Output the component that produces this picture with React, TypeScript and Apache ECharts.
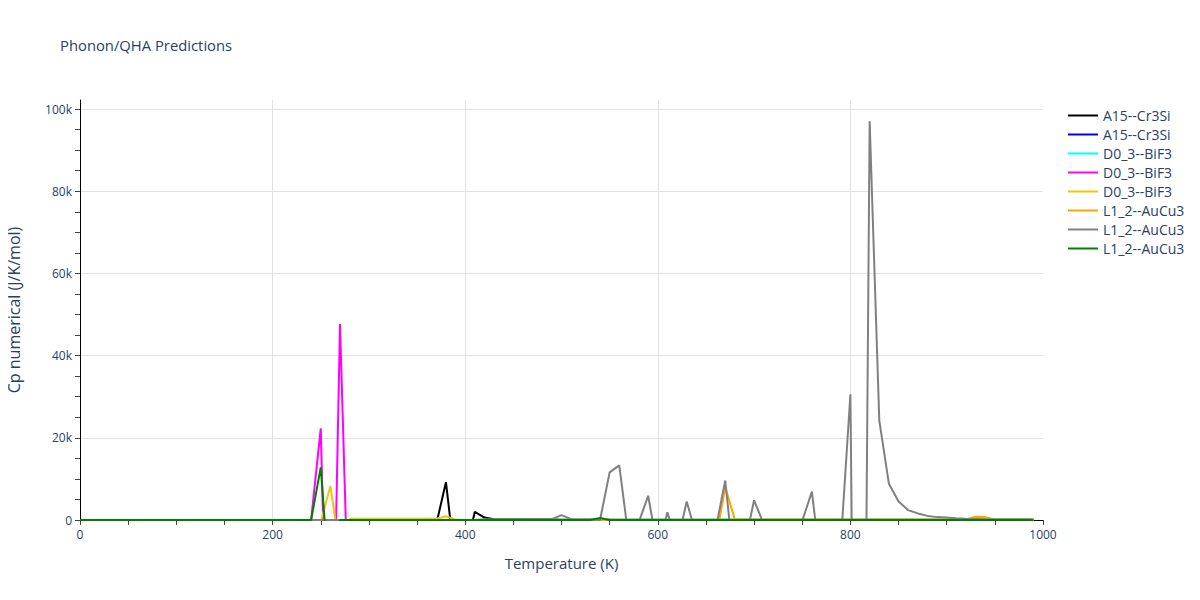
import React, { useEffect, useRef } from "react";
import * as echarts from "echarts";

const temps = [
  0, 10, 20, 30, 40, 50, 60, 70, 80, 90,
  100, 110, 120, 130, 140, 150, 160, 170, 180, 190,
  200, 210, 220, 230, 240, 250, 260, 270, 280, 290,
  300, 310, 320, 330, 340, 350, 360, 370, 380, 390,
  400, 410, 420, 430, 440, 450, 460, 470, 480, 490,
  500, 510, 520, 530, 540, 550, 560, 570, 580, 590,
  600, 610, 620, 630, 640, 650, 660, 670, 680, 690,
  700, 710, 720, 730, 740, 750, 760, 770, 780, 790,
  800, 810, 820, 830, 840, 850, 860, 870, 880, 890,
  900, 910, 920, 930, 940, 950, 960, 970, 980, 990,
];

const a15Black = [
  0, 0, 0, 0, 0, 0, 0, 0, 0, 0,
  0, 0, 0, 0, 0, 0, 0, 0, 0, 0,
  0, 0, 0, 0, 0, 0, 0, 0, 0, 0,
  0, 0, 0, 0, 0, 0, 0, -1000, 9200, -11000,
  -8000, 2000, 600, 200, 150, 100, 100, 100, 100, 100,
  80, 80, 80, 80, 80, 80, 80, 80, 80, 80,
  80, 80, 80, 80, 80, 80, 80, 80, 80, 80,
  80, 80, 80, 80, 80, 80, 80, 80, 80, 80,
  80, 80, 80, 80, 80, 80, 80, 80, 80, 80,
  80, 80, 80, 80, 80, 80, 80, 80, 80, 80,
];

const a15Blue = [
  0, 0, 0, 0, 0, 0, 0, 0, 0, 0,
  0, 0, 0, 0, 0, 0, 0, 0, 0, 0,
  0, 0, 0, 0, 0, 0, 0, 0, 0, 0,
  0, 0, 0, 0, 0, 0, 0, 0, 0, 0,
  0, 0, 0, 0, 0, 0, 0, 0, 0, 0,
  0, 0, 0, 0, 0, 0, 0, 0, 0, 0,
  0, 0, 0, 0, 0, 0, 0, 0, 0, 0,
  0, 0, 0, 0, 0, 0, 0, 0, 0, 0,
  0, 0, 0, 0, 0, 0, 0, 0, 0, 0,
  0, 0, 0, 0, 0, 0, 0, 0, 0, 0,
];

const d03Cyan = [
  0, 0, 0, 0, 0, 0, 0, 0, 0, 0,
  0, 0, 0, 0, 0, 0, 0, 0, 0, 0,
  0, 0, 0, 0, 0, 0, 0, 0, 0, 0,
  0, 0, 0, 0, 0, 0, 0, 0, 0, 0,
  0, 0, 0, 0, 0, 0, 0, 0, 0, 0,
  0, 0, 0, 0, 0, 0, 0, 0, 0, 0,
  0, 0, 0, 0, 0, 0, 0, 0, 0, 0,
  0, 0, 0, 0, 0, 0, 0, 0, 0, 0,
  0, 0, 0, 0, 0, 0, 0, 0, 0, 0,
  0, 0, 0, 0, 0, 0, 0, 0, 0, 0,
];

const d03Magenta = [
  0, 0, 0, 0, 0, 0, 0, 0, 0, 0,
  0, 0, 0, 0, 0, 0, 0, 0, 0, 0,
  0, 0, 0, 0, 0, 22300, -70000, 47700, -32000, 0,
  0, 0, 0, 0, 0, 0, 0, 0, 0, 0,
  0, 0, 0, 0, 0, 0, 0, 0, 0, 0,
  0, 0, 0, 0, 0, 0, 0, 0, 0, 0,
  0, 0, 0, 0, 0, 0, 0, 0, 0, 0,
  0, 0, 0, 0, 0, 0, 0, 0, 0, 0,
  0, 0, 0, 0, 0, 0, 0, 0, 0, 0,
  0, 0, 0, 0, 0, 0, 0, 0, 0, 0,
];

const d03Yellow = [
  0, 0, 0, 0, 0, 0, 0, 0, 0, 0,
  0, 0, 0, 0, 0, 0, 0, 0, 0, 0,
  0, 0, 0, 0, 0, -500, 8300, -7700, 300, 300,
  300, 300, 300, 300, 300, 300, 300, 300, 900, 100,
  0, 0, 0, 0, 0, 0, 0, 0, 0, 0,
  0, 0, 0, 0, 0, 0, 0, 0, 0, 0,
  0, 0, 0, 0, 0, 0, 0, 0, 0, 0,
  0, 0, 0, 0, 0, 0, 0, 0, 0, 0,
  0, 0, 0, 0, 0, 0, 0, 0, 0, 0,
  0, 0, 0, 0, 0, 0, 0, 0, 0, 0,
];

const l12Orange = [
  0, 0, 0, 0, 0, 0, 0, 0, 0, 0,
  0, 0, 0, 0, 0, 0, 0, 0, 0, 0,
  0, 0, 0, 0, 0, 0, 0, 0, 0, 0,
  0, 0, 0, 0, 0, 0, 0, 0, 0, 0,
  0, 0, 0, 0, 0, 0, 0, 0, 0, 0,
  0, 0, 0, 0, 0, 0, 0, 0, 0, 0,
  0, 0, 0, 0, 0, 0, -5000, 8000, 150, 150,
  150, 150, 150, 150, 150, 150, 150, 150, 150, 150,
  150, 150, 150, 150, 150, 150, 150, 150, 150, 150,
  150, 150, 150, 800, 700, 150, 150, 150, 150, 150,
];

const l12Gray = [
  0, 0, 0, 0, 0, 0, 0, 0, 0, 0,
  0, 0, 0, 0, 0, 0, 0, 0, 0, 0,
  0, 0, 0, 0, 0, 0, 0, 0, 0, 0,
  0, 0, 0, 0, 0, 0, 0, 0, 0, 0,
  0, 0, 200, 200, 200, 200, 200, 200, 200, 200,
  1200, 200, 100, 100, 0, 11600, 13300, -5000, -700, 5900,
  -7200, 1900, -6000, 4500, -3700, 0, -2400, 9600, -12700, -6200,
  4800, -1000, 0, 0, 0, -200, 6900, -12800, 0, -5800,
  30600, -196000, 97000, 24200, 8800, 4500, 2400, 1600, 1000, 700,
  600, 400, 300, 250, 200, 150, 100, 100, 100, 100,
];

const l12Green = [
  0, 0, 0, 0, 0, 0, 0, 0, 0, 0,
  0, 0, 0, 0, 0, 0, 0, 0, 0, 0,
  0, 0, 0, 0, 0, 12800, -19000, 0, 0, 0,
  0, 0, 0, 0, 0, 0, 0, 0, 0, 0,
  0, 0, 0, 0, 0, 0, 0, 0, 0, 0,
  0, 0, 0, 0, 500, 0, 0, 0, 0, 0,
  0, 0, 0, 0, 0, 0, 0, 0, 0, 0,
  0, 0, 0, 0, 0, 0, 0, 0, 0, 0,
  0, 0, 0, 0, 0, 0, 0, 0, 0, 0,
  0, 0, 0, 0, 0, 0, 0, 0, 0, 0,
];

const seriesNames = [
  "A15--Cr3Si",
  "A15--Cr3Si",
  "D0_3--BiF3",
  "D0_3--BiF3",
  "D0_3--BiF3",
  "L1_2--AuCu3",
  "L1_2--AuCu3",
  "L1_2--AuCu3",
];
const seriesColors = ["#000000", "#0000ff", "#00ffff", "#ff00ff", "#f2c40f", "#ffa500", "#808080", "#008000"];
const seriesValues = [a15Black, a15Blue, d03Cyan, d03Magenta, d03Yellow, l12Orange, l12Gray, l12Green];

const yTickValues = [
  0, 5000, 10000, 15000, 20000, 25000, 30000, 35000, 40000, 45000,
  50000, 55000, 60000, 65000, 70000, 75000, 80000, 85000, 90000, 95000, 100000,
];
const yLabelValues = [0, 20000, 40000, 60000, 80000, 100000];

const TEXT = "#2a3f5f";
const FONT = "'Open Sans', verdana, arial, sans-serif";
const CLEAR = "rgba(0,0,0,0)";

export default function App() {
  const ref = useRef<HTMLDivElement>(null);
  useEffect(() => {
    if (!ref.current) return;
    const chart = echarts.init(ref.current, null, { renderer: "svg" });
    const keys = seriesNames.map((n, i) => n + "\u200b".repeat(i));
    chart.setOption({
      animation: false,
      backgroundColor: "#ffffff",
      textStyle: { fontFamily: FONT },
      title: {
        text: "Phonon/QHA Predictions",
        left: 55,
        top: 32,
        textStyle: { fontFamily: FONT, fontSize: 14.8, fontWeight: "normal", color: TEXT },
      },
      legend: {
        orient: "vertical",
        left: 1063,
        top: 103,
        icon: "rect",
        itemWidth: 30,
        itemHeight: 2,
        itemGap: 4,
        data: keys,
        formatter: (name: string) => name.replace(/\u200b/g, ""),
        textStyle: { fontFamily: FONT, fontSize: 14, color: TEXT, lineHeight: 15 },
      },
      grid: { left: 80, top: 100, width: 963, height: 420, outerBoundsMode: "none", containLabel: false },
      xAxis: {
        type: "value",
        min: 0,
        max: 1000,
        interval: 200,
        name: "Temperature (K)",
        nameLocation: "middle",
        nameGap: 35,
        nameTextStyle: { fontFamily: FONT, fontSize: 15, color: TEXT },
        axisLine: { show: true, onZero: false, lineStyle: { color: "#000", width: 1 } },
        axisTick: { show: true, length: 5, lineStyle: { color: "#444" } },
        minorTick: { show: true, splitNumber: 4, length: 5, lineStyle: { color: "#444" } },
        axisLabel: { fontFamily: FONT, fontSize: 12, color: TEXT, margin: 8, formatter: (v: number) => String(v) },
        splitLine: { show: true, showMaxLine: false, lineStyle: { color: "#e2e2e2", width: 1 } },
      },
      yAxis: {
        type: "value",
        min: 0,
        max: 102200,
        name: "Cp numerical (J/K/mol)",
        nameLocation: "middle",
        nameGap: 58,
        nameTextStyle: { fontFamily: FONT, fontSize: 16, color: TEXT },
        axisLine: { show: true, onZero: false, lineStyle: { color: "#000", width: 1 } },
        axisTick: { show: true, length: 5, customValues: yTickValues, lineStyle: { color: "#444" } },
        axisLabel: {
          fontFamily: FONT,
          fontSize: 12,
          color: TEXT,
          margin: 8,
          customValues: yLabelValues,
          formatter: (v: number) => (v === 0 ? "0" : v / 1000 + "k"),
        },
        splitLine: {
          show: true,
          lineStyle: { color: ["#e2e2e2", CLEAR, CLEAR, CLEAR], width: 1 },
        },
      },
      series: seriesValues.map((vals, i) => ({
        type: "line",
        name: keys[i],
        data: temps.map((t, j) => [t, vals[j]]),
        showSymbol: false,
        symbol: "none",
        clip: true,
        lineStyle: { color: seriesColors[i], width: 2 },
        itemStyle: { color: seriesColors[i] },
      })),
    });
    return () => chart.dispose();
  }, []);
  return <div ref={ref} style={{ width: 1200, height: 600, marginLeft: -8, marginTop: -8 }} />;
}
